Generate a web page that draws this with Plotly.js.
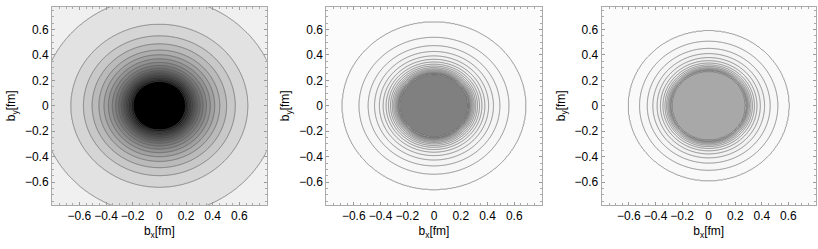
<!DOCTYPE html>
<html><head><meta charset="utf-8">
<script src="https://cdn.plot.ly/plotly-3.0.1.min.js"></script>
<style>html,body{margin:0;padding:0;background:#fff}</style>
</head><body><div id="chart" style="width:818px;height:249px"></div>
<script>
// Contour radii (fm, along b_x), outermost contour first
const ringsA = [0.885, 0.663, 0.569, 0.504, 0.453, 0.415, 0.382, 0.353, 0.328, 0.306, 0.287, 0.270, 0.255, 0.242, 0.230, 0.219, 0.209, 0.200];
const ringsB = [0.685, 0.560, 0.492, 0.444, 0.408, 0.380, 0.358, 0.340, 0.325, 0.312, 0.301, 0.292, 0.284, 0.277, 0.271, 0.266, 0.262, 0.258, 0.255];
const ringsC = [0.603, 0.520, 0.462, 0.420, 0.388, 0.363, 0.344, 0.329, 0.317, 0.307, 0.299, 0.292, 0.287, 0.282, 0.278];
// vertical / horizontal axis ratio of the contours
const ratioA = 0.965, ratioB = 0.96, ratioC = 0.975;
const tickVals = [-0.6, -0.4, -0.2, 0, 0.2, 0.4, 0.6];
const tickText = ['\u22120.6', '\u22120.4', '\u22120.2', '0', '0.2', '0.4', '0.6'];

const XR = [-0.805, 0.805], YR = [-0.78, 0.78];

function grid(rings, ratio) {
  const xs = [], ys = [];
  for (let v = -0.82; v <= 0.8201; v += 0.006) xs.push(+v.toFixed(4));
  for (let v = -0.80; v <= 0.8001; v += 0.006) ys.push(+v.toFixed(4));
  const N = rings.length;
  const R = [2.0].concat(rings, [0]);
  const Zk = [0].concat(rings.map((_, i) => i + 1), [N + 1]);
  const z = ys.map(y => xs.map(x => {
    const r = Math.sqrt(x * x + (y / ratio) * (y / ratio));
    for (let k = 0; k < R.length - 1; k++) {
      if (r <= R[k] && r >= R[k + 1]) {
        const t = (R[k] - r) / (R[k] - R[k + 1]);
        return Zk[k] + t * (Zk[k + 1] - Zk[k]);
      }
    }
    return 0;
  }));
  return {xs, ys, z, N};
}

function scale(colors) {
  const n = colors.length - 1;
  return colors.map((c, j) => [j / n, c]);
}
function gray(v) { const g = Math.round(v * 255); return 'rgb(' + g + ',' + g + ',' + g + ')'; }

function trace(rings, ratio, bandColors, xa, ya) {
  const g = grid(rings, ratio);
  return {
    type: 'contour', x: g.xs, y: g.ys, z: g.z,
    xaxis: xa, yaxis: ya,
    autocontour: false,
    contours: {start: 1, end: g.N, size: 1, coloring: 'fill', showlines: true},
    line: {color: 'rgb(90,90,90)', width: 0.65, smoothing: 0},
    colorscale: scale(bandColors),
    showscale: false, hoverinfo: 'skip'
  };
}

const nA = ringsA.length, nB = ringsB.length, nC = ringsC.length;
const colA = []; for (let j = 0; j <= nA; j++) colA.push(gray(0.94 * (1 - j / nA)));
const colB = []; for (let j = 0; j < nB; j++) colB.push(gray(0.985 - 0.14 * j / (nB - 1))); colB.push(gray(0.5));
const colC = []; for (let j = 0; j < nC; j++) colC.push(gray(0.985 - 0.12 * j / (nC - 1))); colC.push(gray(0.66));

const data = [
  trace(ringsA, ratioA, colA, 'x', 'y'),
  trace(ringsB, ratioB, colB, 'x2', 'y2'),
  trace(ringsC, ratioC, colC, 'x3', 'y3')
];

const font = {family: 'Liberation Sans, Arial, sans-serif', size: 12, color: '#000'};
function xax(dom, anchor) {
  return {domain: dom, anchor: anchor, range: XR, tickvals: tickVals, ticktext: tickText,
    ticks: 'inside', ticklen: 3, tickcolor: '#999', showline: true, linecolor: '#aaa', linewidth: 1,
    mirror: 'ticks', showgrid: false, zeroline: false, tickfont: font,
    minor: {dtick: 0.05, ticks: 'inside', ticklen: 2, tickcolor: '#aaa', showgrid: false},
    title: {text: 'b<sub>x</sub>[fm]', font: font, standoff: 4}};
}
function yax(dom, anchor) {
  return {domain: dom, anchor: anchor, range: YR, tickvals: tickVals, ticktext: tickText,
    ticks: 'inside', ticklen: 3, tickcolor: '#999', showline: true, linecolor: '#aaa', linewidth: 1,
    mirror: 'ticks', showgrid: false, zeroline: false, tickfont: font,
    minor: {dtick: 0.05, ticks: 'inside', ticklen: 2, tickcolor: '#aaa', showgrid: false},
    title: {text: 'b<sub>y</sub>[fm]', font: font, standoff: 6}};
}
const yd = [44 / 249, 242.5 / 249];
const layout = {
  width: 818, height: 249, margin: {l: 0, r: 0, t: 0, b: 0},
  paper_bgcolor: '#fff', plot_bgcolor: '#fff', showlegend: false,
  xaxis: xax([52 / 818, 266.7 / 818], 'y'), yaxis: yax(yd, 'x'),
  xaxis2: xax([326.3 / 818, 541.7 / 818], 'y2'), yaxis2: yax(yd, 'x2'),
  xaxis3: xax([601.7 / 818, 815.7 / 818], 'y3'), yaxis3: yax(yd, 'x3')
};
Plotly.newPlot('chart', data, layout, {staticPlot: true, displayModeBar: false});
</script></body></html>
